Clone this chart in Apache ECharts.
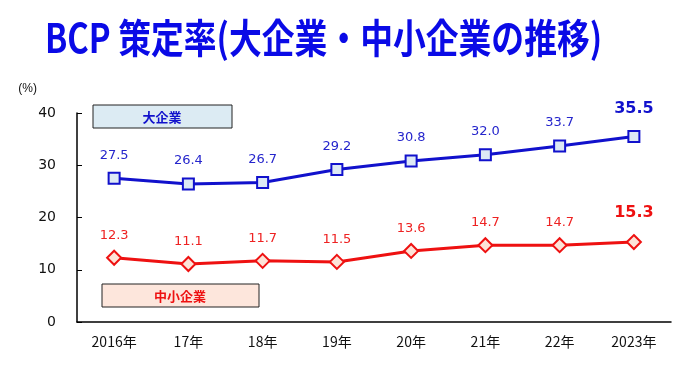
<!DOCTYPE html>
<html><head><meta charset="utf-8">
<script src="https://cdn.jsdelivr.net/npm/echarts@6/dist/echarts.min.js"></script>
<style>html,body{margin:0;padding:0;background:#fff}#c{width:694px;height:381px}</style>
</head><body><div id="c"></div>
<script>
const categories = ['2016年','17年','18年','19年','20年','21年','22年','2023年'];
const largeCo = [27.5, 26.4, 26.7, 29.2, 30.8, 32.0, 33.7, 35.5];
const smeCo = [12.3, 11.1, 11.7, 11.5, 13.6, 14.7, 14.7, 15.3];
const yTicks = [0, 10, 20, 30, 40];
const titleText = 'BCP 策定率(大企業・中小企業の推移)';
const seriesNames = ['大企業', '中小企業'];

const chart = echarts.init(document.getElementById('c'));
const BLUE = '#1111cc', RED = '#ee1111';
function mkData(arr, color) {
  return arr.map((v, i) => {
    if (i === arr.length - 1) {
      return { value: v, label: { fontSize: 16, fontWeight: 'bold', distance: 13, color: color } };
    }
    return v;
  });
}
chart.setOption({
  animation: false,
  grid: { left: 77, right: 23, top: 113, bottom: 59 },
  xAxis: {
    type: 'category', data: categories, boundaryGap: true,
    axisLine: { lineStyle: { color: '#000', width: 1.5 } },
    axisTick: { show: false },
    axisLabel: { color: '#111', fontSize: 14, margin: 13, fontFamily: 'Noto Sans CJK JP' }
  },
  yAxis: {
    type: 'value', min: yTicks[0], max: yTicks[yTicks.length - 1], interval: 10,
    name: '(%)', nameLocation: 'end', nameGap: 18,
    nameTextStyle: { color: '#111', fontSize: 12, align: 'right', padding: [0, 40, 0, 0] },
    axisLine: { show: true, lineStyle: { color: '#000', width: 1.5 } },
    axisTick: { show: true, inside: true, length: 5, lineStyle: { color: '#000' } },
    splitLine: { show: false },
    axisLabel: { color: '#111', fontSize: 14, margin: 21, fontFamily: 'DejaVu Sans' }
  },
  graphic: [
    { type: 'text', x: 45, y: 38, scaleX: 0.82, silent: true,
      style: { text: titleText, fill: '#0a0ae6', font: 'bold 40px "Noto Sans CJK JP"', align: 'left', verticalAlign: 'middle' } },
    { type: 'rect', x: 93, y: 105, shape: { width: 139, height: 23 },
      style: { fill: '#dcebf3', stroke: '#222', lineWidth: 1 } },
    { type: 'text', x: 162, y: 117, silent: true,
      style: { text: seriesNames[0], fill: '#1111cc', font: 'bold 13px "Noto Sans CJK JP"', align: 'center', verticalAlign: 'middle' } },
    { type: 'rect', x: 102, y: 284, shape: { width: 157, height: 23 },
      style: { fill: '#fde6dc', stroke: '#222', lineWidth: 1 } },
    { type: 'text', x: 180, y: 296, silent: true,
      style: { text: seriesNames[1], fill: '#ee1111', font: 'bold 13px "Noto Sans CJK JP"', align: 'center', verticalAlign: 'middle' } }
  ],
  series: [
    {
      name: seriesNames[0], type: 'line', data: mkData(largeCo, BLUE),
      symbol: 'rect', symbolSize: 11,
      lineStyle: { color: BLUE, width: 3 },
      itemStyle: { color: '#dde9f5', borderColor: BLUE, borderWidth: 2 },
      label: { show: true, position: 'top', distance: 10, color: '#2525cc', fontSize: 13, fontFamily: 'DejaVu Sans', formatter: p => p.value.toFixed(1) }
    },
    {
      name: seriesNames[1], type: 'line', data: mkData(smeCo, RED),
      symbol: 'diamond', symbolSize: 14,
      lineStyle: { color: RED, width: 3 },
      itemStyle: { color: '#fde3d8', borderColor: RED, borderWidth: 2 },
      label: { show: true, position: 'top', distance: 8, color: '#ee2222', fontSize: 13, fontFamily: 'DejaVu Sans', formatter: p => p.value.toFixed(1) }
    }
  ]
});
</script></body></html>
